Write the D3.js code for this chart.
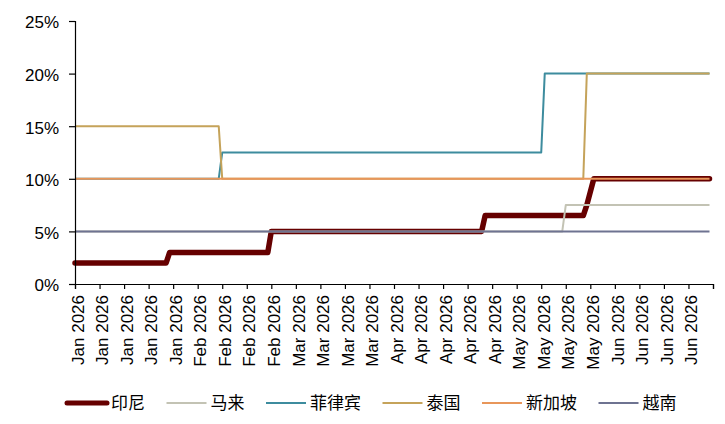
<!DOCTYPE html>
<html>
<head>
<meta charset="utf-8">
<script src="https://cdn.jsdelivr.net/npm/d3@7"></script>
<style>
  body { margin: 0; background: #fff; }
  text { font-family: "Liberation Sans", Arial, sans-serif; }
  .legend text { font-family: "Noto Sans CJK SC", sans-serif; }
</style>
</head>
<body>
<script>
// series names, colours and widths (legend order = draw order)
var names  = ["印尼", "马来", "菲律宾", "泰国", "新加坡", "越南"];
var colors = ["#660000", "#c3c3b4", "#3d8c9e", "#c5a35a", "#e8965a", "#6e7391"];
var widths = [5.5, 2, 2, 2, 2, 2];

// tariff values (%) at each change point
var indonesia   = [["2026-01-01", 2], ["2026-01-27", 2], ["2026-01-28", 3], ["2026-02-25", 3], ["2026-02-26", 5],
                   ["2026-04-27", 5], ["2026-04-28", 6.5], ["2026-05-26", 6.5], ["2026-05-27", 7.5], ["2026-05-29", 10], ["2026-07-01", 10]];
var malaysia    = [["2026-01-01", 5], ["2026-05-20", 5], ["2026-05-21", 7.5], ["2026-07-01", 7.5]];
var philippines = [["2026-01-01", 10], ["2026-02-11", 10], ["2026-02-12", 12.5], ["2026-05-14", 12.5], ["2026-05-15", 20], ["2026-07-01", 20]];
var thailand    = [["2026-01-01", 15], ["2026-02-11", 15], ["2026-02-12", 10], ["2026-05-26", 10], ["2026-05-27", 20], ["2026-07-01", 20]];
var singapore   = [["2026-01-01", 10], ["2026-07-01", 10]];
var vietnam     = [["2026-01-01", 5], ["2026-07-01", 5]];

var yTicks = [0, 5, 10, 15, 20, 25];
var xStart = "2026-01-01", xEnd = "2026-07-02"; // weekly ticks between these

var series = [indonesia, malaysia, philippines, thailand, singapore, vietnam];

var W = 725, H = 424;
var padL = 75, padR = 713, padT = 21, padB = 284;

var parse = d3.timeParse("%Y-%m-%d");

var x = d3.scaleTime()
  .domain([parse(xStart), parse(xEnd)])
  .range([padL, padR]);

var y = d3.scaleLinear()
  .domain([0, 25])
  .range([padB, padT]);

var svg = d3.select("body").append("svg")
  .attr("width", W)
  .attr("height", H);

// lines
var line = d3.line()
  .x(function(d){ return x(parse(d[0])); })
  .y(function(d){ return y(d[1]); });

series.forEach(function(s, i){
  svg.append("path")
    .datum(s)
    .attr("d", line)
    .attr("fill", "none")
    .attr("stroke", colors[i])
    .attr("stroke-width", widths[i])
    .attr("stroke-linejoin", "round")
    .attr("stroke-linecap", i == 0 ? "round" : "butt");
});

// y axis
var yAxis = d3.axisLeft(y)
  .tickValues(yTicks)
  .tickSize(6)
  .tickPadding(10)
  .tickFormat(function(d){ return d + "%"; });

var gy = svg.append("g")
  .attr("transform", "translate(" + padL + ",0)")
  .call(yAxis);
gy.selectAll("text").attr("font-size", "17px").attr("fill", "#000").attr("dy", "0.4em");

// x axis, weekly ticks
var weeks = d3.timeDay.range(parse(xStart), d3.timeDay.offset(parse(xEnd), 1), 7);
var fmt = d3.timeFormat("%b %Y");
var xAxis = d3.axisBottom(x)
  .tickValues(weeks)
  .tickSize(5)
  .tickFormat(function(d, i){ return i == weeks.length - 1 ? "" : fmt(d); });

var gx = svg.append("g")
  .attr("transform", "translate(0," + padB + ")")
  .call(xAxis);
gx.selectAll("text")
  .attr("font-size", "17px")
  .attr("fill", "#000")
  .attr("text-anchor", "end")
  .attr("transform", "rotate(-90)")
  .attr("x", -11)
  .attr("y", 0)
  .attr("dy", "0.48em");

svg.selectAll(".domain, .tick line").attr("stroke", "#000").attr("stroke-width", 1.2);

// legend
var lg = svg.append("g").attr("class", "legend");
var lx = 67, ly = 403;
names.forEach(function(n, i){
  lg.append("line")
    .attr("x1", lx).attr("x2", lx + 40)
    .attr("y1", ly).attr("y2", ly)
    .attr("stroke", colors[i])
    .attr("stroke-width", i == 0 ? 5 : 2)
    .attr("stroke-linecap", i == 0 ? "round" : "butt");
  var t = lg.append("text")
    .text(n)
    .attr("x", lx + 44)
    .attr("y", ly)
    .attr("dy", "0.36em")
    .attr("font-size", "17px")
    .attr("fill", "#000");
  lx = lx + 44 + t.node().getComputedTextLength() + 21.5;
});
</script>
</body>
</html>
